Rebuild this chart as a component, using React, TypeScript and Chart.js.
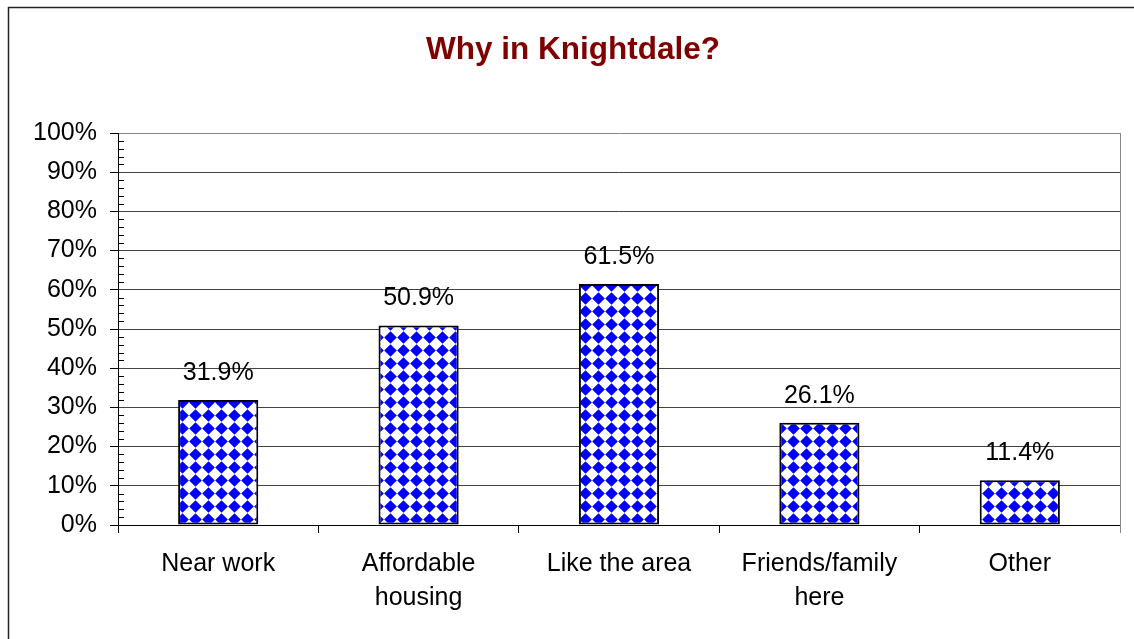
import React, { useEffect, useRef } from "react";
import { Chart, registerables } from "chart.js";

Chart.register(...registerables);

const TITLE = "Why in Knightdale?";
const categories: (string | string[])[] = [
  "Near work",
  ["Affordable", "housing"],
  "Like the area",
  ["Friends/family", "here"],
  "Other",
];
const values: number[] = [31.9, 50.9, 61.5, 26.1, 11.4];
const valueLabels: string[] = ["31.9%", "50.9%", "61.5%", "26.1%", "11.4%"];
const yMin = 0;
const yMax = 100;
const yStep = 10;
const yMinorStep = 2;

const FONT = "'Liberation Sans', Arial, Helvetica, sans-serif";

function makePattern(): CanvasPattern | string {
  const size = 13;
  const c = document.createElement("canvas");
  c.width = size;
  c.height = size;
  const g = c.getContext("2d");
  if (!g) return "#0000ff";
  g.fillStyle = "#ffffff";
  g.fillRect(0, 0, size, size);
  g.fillStyle = "#0000ff";
  const h = size / 2;
  g.beginPath();
  g.moveTo(h, 0.2);
  g.lineTo(size - 0.2, h);
  g.lineTo(h, size - 0.2);
  g.lineTo(0.2, h);
  g.closePath();
  g.fill();
  const p = g.createPattern(c, "repeat");
  return p || "#0000ff";
}

const decorPlugin = {
  id: "decor",
  beforeDraw(chart: any) {
    const ctx = chart.ctx;
    ctx.save();
    ctx.fillStyle = "#ffffff";
    ctx.fillRect(0, 0, chart.width, chart.height);
    ctx.restore();
  },
  afterDraw(chart: any) {
    const ctx = chart.ctx;
    const area = chart.chartArea;
    const y = chart.scales.y;
    ctx.save();
    // outer frame (left + top)
    ctx.strokeStyle = "#222";
    ctx.lineWidth = 1.5;
    ctx.beginPath();
    ctx.moveTo(1.5, chart.height);
    ctx.lineTo(1.5, 1.5);
    ctx.lineTo(chart.width, 1.5);
    ctx.stroke();
    // title
    ctx.fillStyle = "#800000";
    ctx.font = "bold 31.5px " + FONT;
    ctx.textAlign = "center";
    ctx.textBaseline = "alphabetic";
    ctx.fillText(TITLE, 566, 53);
    // right plot border
    ctx.strokeStyle = "#888";
    ctx.lineWidth = 1;
    ctx.beginPath();
    ctx.moveTo(Math.round(area.right) + 0.5, area.top);
    ctx.lineTo(Math.round(area.right) + 0.5, area.bottom + 8);
    ctx.stroke();
    // minor ticks on y axis
    ctx.strokeStyle = "#000";
    ctx.beginPath();
    for (let v = yMin + yMinorStep; v < yMax; v += yMinorStep) {
      if (v % yStep === 0) continue;
      const py = Math.round(y.getPixelForValue(v)) + 0.5;
      ctx.moveTo(area.left, py);
      ctx.lineTo(area.left + 6, py);
    }
    ctx.stroke();
    // value labels
    const meta = chart.getDatasetMeta(0);
    ctx.fillStyle = "#000";
    ctx.font = "25px " + FONT;
    ctx.textAlign = "center";
    ctx.textBaseline = "alphabetic";
    meta.data.forEach((bar: any, i: number) => {
      ctx.fillText(valueLabels[i], bar.x, bar.y - 20);
    });
    ctx.restore();
  },
};

export default function App() {
  const ref = useRef<HTMLCanvasElement | null>(null);
  useEffect(() => {
    if (!ref.current) return;
    const pattern = makePattern();
    const chart = new Chart(ref.current, {
      type: "bar",
      data: {
        labels: categories,
        datasets: [
          {
            data: values,
            backgroundColor: pattern as any,
            borderColor: "#000",
            borderWidth: 2,
            borderSkipped: false,
            barPercentage: 0.4,
            categoryPercentage: 1,
          },
        ],
      },
      options: {
        responsive: false,
        animation: false,
        layout: { padding: { top: 127, right: 14, left: 0, bottom: 0 } },
        plugins: {
          legend: { display: false },
          title: { display: false },
          tooltip: { enabled: false },
        },
        scales: {
          x: {
            offset: true,
            afterFit: (s: any) => {
              s.height = 114;
            },
            grid: {
              offset: true,
              drawOnChartArea: false,
              drawTicks: true,
              tickLength: 8,
              tickColor: (c: any) => (c.index === categories.length ? "#888" : "#000"),
            },
            border: { display: true, color: "#000", width: 1 },
            ticks: {
              color: "#000",
              padding: 14,
              maxRotation: 0,
              autoSkip: false,
              font: { family: FONT, size: 25, lineHeight: 1.35 },
            },
          },
          y: {
            min: yMin,
            max: yMax,
            afterFit: (s: any) => {
              s.width = 111;
            },
            grid: {
              color: (c: any) => (c.tick && c.tick.value === yMax ? "#888" : "#444"),
              drawTicks: true,
              tickLength: 8,
              tickColor: "#000",
            },
            border: { display: true, color: "#000", width: 1 },
            ticks: {
              stepSize: yStep,
              color: "#000",
              padding: 13,
              font: { family: FONT, size: 25 },
              callback: (v: any) => v + "%",
            },
          },
        },
      },
      plugins: [decorPlugin],
    });
    return () => chart.destroy();
  }, []);
  return (
    <div style={{ position: "fixed", left: 7, top: 6, width: 1127, height: 633 }}>
      <canvas ref={ref} width={1127} height={633} style={{ display: "block" }} />
    </div>
  );
}
